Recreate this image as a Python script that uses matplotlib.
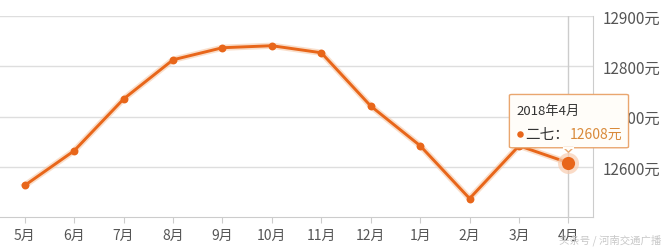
import matplotlib
matplotlib.use('Agg')
import matplotlib.pyplot as plt
import matplotlib.patheffects as pe
from matplotlib.patches import FancyBboxPatch, Polygon

plt.rcParams['font.family'] = ['Noto Sans CJK SC', 'DejaVu Sans']

months = ['5月', '6月', '7月', '8月', '9月', '10月', '11月', '12月', '1月', '2月', '3月', '4月']
prices = [12563, 12632, 12735, 12813, 12837, 12841, 12827, 12721, 12642, 12537, 12642, 12608]
y_ticks = [12600, 12700, 12800, 12900]
y_labels = ['12600元', '12700元', '12800元', '12900元']

orange = '#e8661a'
grid_c = '#dedede'
text_c = '#555555'

fig = plt.figure(figsize=(6.65, 2.51), dpi=100)
ax = fig.add_axes([0.0, 0.131, 0.892, 0.801])

x = list(range(len(months)))
ax.set_xlim(-0.5, len(months) - 0.5)
ax.set_ylim(12500, 12900)

for v in y_ticks:
    ax.axhline(v, color=grid_c, lw=1, zorder=0)
ax.axvline(x[-1], color='#cccccc', lw=1, zorder=1)

ax.plot(x, prices, color=orange, lw=2.1, zorder=3,
        path_effects=[pe.Stroke(linewidth=4.5, foreground='#f6c9a8', alpha=0.6), pe.Normal()])
ax.scatter(x[:-1], prices[:-1], s=32, color=orange, zorder=4, linewidths=0)
ax.scatter([x[-1]], [prices[-1]], s=230, color='#f8cdb0', alpha=0.7, zorder=4, linewidths=0)
ax.scatter([x[-1]], [prices[-1]], s=90, color=orange, zorder=5, linewidths=0)

ax.yaxis.tick_right()
ax.set_yticks(y_ticks)
ax.set_yticklabels(y_labels, fontsize=11, color=text_c)
ax.tick_params(axis='y', length=0, pad=7)
ax.set_xticks(x)
ax.set_xticklabels(months, fontsize=10, color=text_c)
ax.tick_params(axis='x', length=4, color='#cccccc', pad=4)

for s in ['top', 'left']:
    ax.spines[s].set_visible(False)
ax.spines['right'].set_color('#cccccc')
ax.spines['bottom'].set_color('#cccccc')

# tooltip
bx0, by0 = 9.805, 12638
box = FancyBboxPatch((bx0, by0), 2.41, 106, boxstyle='round,pad=0,rounding_size=0.05',
                     transform=ax.transData, facecolor='#fffdf9', edgecolor='#e9a66f',
                     lw=1, zorder=6, clip_on=False, mutation_aspect=40)
ax.add_patch(box)
tri = Polygon([[x[-1] - 0.1, by0 + 0.5], [x[-1] + 0.1, by0 + 0.5], [x[-1], by0 - 9]],
              closed=True, facecolor='#fffdf9', edgecolor='#e9a66f', lw=1, zorder=6, clip_on=False)
ax.add_patch(tri)
ax.plot([x[-1] - 0.09, x[-1] + 0.09], [by0, by0], color='#fffdf9', lw=1.5, zorder=7, clip_on=False)
ax.text(bx0 + 0.15, 12712, '2018年4月', fontsize=9.5, color='#333333', va='center', zorder=8)
ax.scatter([10.01], [12666], s=22, color=orange, zorder=8, clip_on=False, linewidths=0)
ax.text(10.12, 12666, '二七：', fontsize=10.5, color='#333333', va='center', zorder=8)
ax.text(11.02, 12666, '%d元' % prices[-1], fontsize=10, color='#d98a3a', va='center', zorder=8)

fig.text(0.995, 0.02, '头条号 / 河南交通广播', fontsize=7.5, color='#c8c8c8', ha='right', va='bottom')

fig.savefig('out.png', dpi=100)
